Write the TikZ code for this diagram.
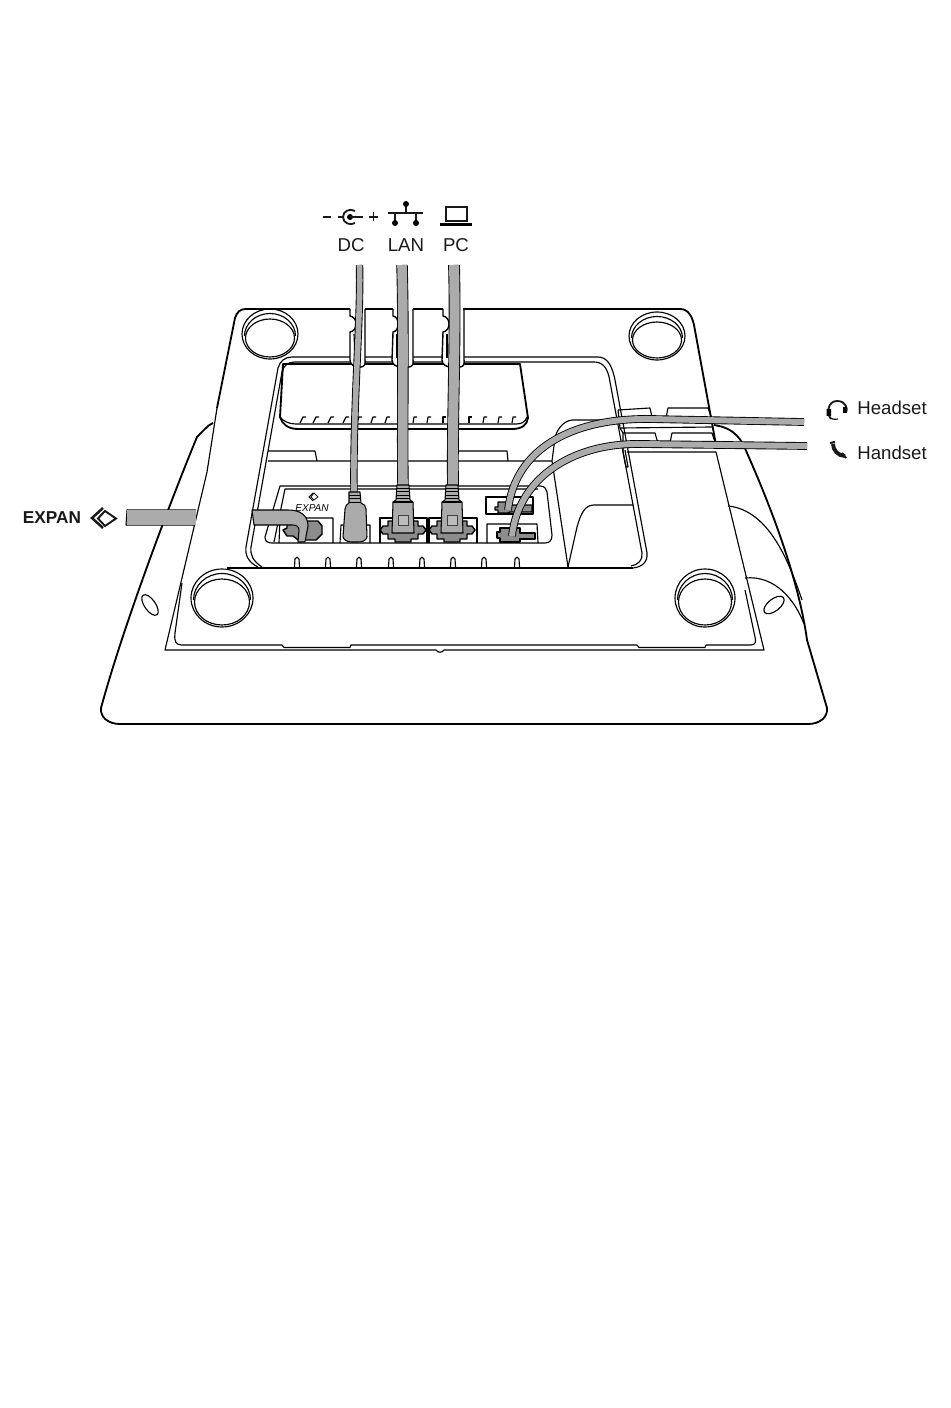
\documentclass[tikz,border=0pt]{standalone}
\usepackage{fontspec}
\setmainfont{Liberation Sans}
\usepackage{xcolor}
\usepackage{tikz}
\pgfdeclarelayer{cablelayer}
\pgfdeclarelayer{pluglayer}
\pgfsetlayers{main,cablelayer,pluglayer}
\definecolor{cablegray}{HTML}{ABABAB}
\definecolor{plugdark}{HTML}{8C8C8C}
\tikzstyle{thin line}=[draw=black, line width=.65pt, line join=round]
\tikzstyle{thick line}=[draw=black, line width=1.05pt, line join=round]
\tikzstyle{cable}=[draw=black, line width=.5pt, double=cablegray, double distance=#1]
\tikzstyle{plug}=[draw=black, line width=.6pt, fill=cablegray, line join=round]
\tikzstyle{jack}=[draw=black, line width=.8pt, fill=plugdark, line join=round]
\tikzstyle{portlabel}=[inner sep=0pt, font=\fontsize{10.6pt}{12pt}\selectfont, text=black!90]
\tikzstyle{icon}=[draw=black!90, line width=1.05pt]

\begin{document}
\begin{tikzpicture}[x=.02cm, y=-.02cm]
    \useasboundingbox (0,0) rectangle (950,1408);
    \fill[white] (0,0) rectangle (950,1408);

    % labels
    \node [style=portlabel] (DC) at (351,245) {DC};
    \node [style=portlabel] (LAN) at (406,245) {LAN};
    \node [style=portlabel] (PC) at (456,245) {PC};
    \node [style=portlabel, anchor=west] (Headset) at (857,408) {Headset};
    \node [style=portlabel, anchor=west] (Handset) at (857,453) {Handset};
    \node [style=portlabel, font=\fontsize{9.8pt}{12pt}\selectfont\bfseries] (EXPAN) at (52,518) {EXPAN};
    \node [inner sep=0pt, font=\fontsize{5.7pt}{7pt}\selectfont\itshape] (EXPANsmall) at (312,508) {EXPAN};

    % icons
    \draw [style=icon] (323,217) -- (331,217) (338,217) -- (343,217);
    \draw [style=icon] (355,211) .. controls (350,208) and (343,211) .. (343,217) .. controls (343,223) and (350,226) .. (355,223);
    \fill (350,217) circle (3);
    \draw [style=icon] (350,217) -- (363,217) (369,217) -- (378,217) (373.5,212.5) -- (373.5,221.5);
    \draw [style=icon] (406,204) -- (406,213) (388,213) -- (423,213) (395,213) -- (395,223) (416,213) -- (416,223);
    \fill (406,204) circle (3) (395,223) circle (3) (416,223) circle (3);
    \draw [style=icon, line width=.8pt] (446,207) rectangle (467,221);
    \fill (440,223) rectangle (472,226);
    \draw [style=icon] (831,419) .. controls (826,413) and (828,401) .. (837,401) .. controls (846,401) and (848,409) .. (846,412);
    \draw [style=icon, line width=.7pt] (829,416) .. controls (830,419) and (834,420) .. (838,419);
    \fill (826.5,409) rectangle (831,416) (843,407) rectangle (847,413);
    \draw [style=icon, line width=2.2pt] (833,444) .. controls (833,450) and (838,456) .. (845,456);
    \draw [style=icon, line width=1.2pt] (830,443) -- (835,442) (842,453) -- (846,458);
    \draw [style=icon, line width=1.4pt] (103,508) -- (92,518) -- (103,528);
    \draw [style=icon, line width=1.1pt] (105,511) -- (116,518.5) -- (105,526) -- (98,518.5) -- cycle;
    \draw [style=icon, line width=.5pt] (313,493) -- (309,497) -- (313,501) (314,493) -- (318,497) -- (314,500) -- (311,497) -- cycle;

    % phone body behind the plate
    \draw [style=thick line] (213,423) .. controls (208,425) and (203,431) .. (197,437)
        .. controls (175,490) and (125,620) .. (101,708)
        .. controls (100,717) and (108,724) .. (120,724) -- (808,724)
        .. controls (820,724) and (828,717) .. (827,708) -- (807,640)
        .. controls (803,610) and (790,550) .. (747,453) .. controls (742,440) and (735,428) .. (714,425);
    \draw [style=thin line] (728,506) .. controls (770,510) and (790,565) .. (802,600);
    \draw [style=thin line] (745,578) .. controls (775,575) and (795,600) .. (804,624);
    \draw [style=thin line, rotate around={-55:(150,605)}] (150,605) ellipse [x radius=12, y radius=5.5];
    \draw [style=thin line, rotate around={38:(774,605)}] (774,605) ellipse [x radius=12, y radius=6];

    % plate
    \draw [style=thick line] (217,408) -- (235,318) .. controls (237,312) and (240,309) .. (246,309) -- (350,309)
        (365,309) -- (393,309) (413,309) -- (443,309) (463,309) -- (680,309)
        .. controls (688,309) and (692,316) .. (694,325) -- (716,445);
    \draw [style=thin line] (217,408) -- (207,472) -- (165,650) -- (436,650) .. controls (438,653) and (442,653) .. (444,650) -- (764,650) -- (716,452) -- (627,452);
    \draw [style=thin line] (182,583) -- (175,633) .. controls (174,642) and (176,645) .. (182,645) -- (282,645) -- (284,647.5) -- (350,647.5) -- (351,645)
        -- (637,645) -- (639,647.5) -- (705,647.5) -- (706,645) -- (751,645) .. controls (756,645) and (756,641) .. (755,637) -- (745,590);
    % feet
    \foreach \x/\y/\r/\s in {270/334/28/25, 657/336/28/24, 222/598/31/29, 705/598/30/29} {
        \draw [style=thin line] (\x,\y) ellipse [x radius=\r, y radius=\s];
        \draw [style=thin line] (\x-\r+2.5,\y+2) arc [start angle=180, end angle=360, x radius=\r-2.5, y radius=\s-2.5];
        \draw [style=thin line] (\x,\y+4) ellipse [x radius=\r-3.5, y radius=\s-6];
    }

    % tray
    \draw [style=thin line] (258,567) .. controls (248,562) and (245,555) .. (246,547) -- (278,368) .. controls (280,361) and (285,357) .. (292,357) -- (598,357)
        .. controls (607,357) and (612,365) .. (615,380) -- (647,553) .. controls (648,562) and (642,567) .. (633,568);
    \draw [style=thin line] (262,567) .. controls (253,561) and (250,555) .. (251,547) -- (282,372) .. controls (284,365) and (288,362) .. (295,362) -- (594,362)
        .. controls (603,362) and (608,368) .. (610,382) -- (642,553) .. controls (643,560) and (638,565) .. (631,566);
    \draw [style=thick line] (227,568) -- (633,568);
    \draw [style=thick line] (283,364) -- (520,364) -- (528,418) .. controls (527,425) and (522,429) .. (512,429) -- (298,429) .. controls (288,429) and (282,424) .. (280,417) -- cycle;
    \draw [style=thin line] (280,417) .. controls (284,422) and (290,424) .. (296,424) -- (516,424) .. controls (522,424) and (525,422) .. (527,417);
    \foreach \x/\s in {300/3,313/3,328/3,343/3,357/2,371/2,385/2,413/1,427/1,443/0,469/0,483/1,498/1,512/1} {
        \draw [style=thin line] (\x,423) -- ++(\s,-6) -- ++(3,0);
    }
    \draw [style=thin line] (268,451) -- (315,451) -- (317,461) -- (552,461) (268,461) -- (317,461);
    \draw [style=thin line] (457,451) -- (507,451) -- (508,461);
    \draw [style=thin line] (603,420) -- (572,420) .. controls (562,421) and (556,432) .. (555,438) -- (552,461) -- (568,567);
    \draw [style=thin line] (568,567) -- (577,527) .. controls (581,513) and (585,505) .. (594,505) -- (633,505);

    % slots in the top edge
    \foreach \a/\b/\c/\d/\e in {350/358/350/355/365, 393/400/392/397/413, 443/451/442/447/464} {
        \fill [white] (\a,310) -- (\a,333) -- (\c,362) -- (\d,367) -- (\e,367) -- (\e,310) -- cycle;
        \draw [style=thick line, line width=.8pt] (\a,309) -- (\a,316) .. controls (\b,317) and (\b,331) .. (\a,332)
            -- (\c,360) .. controls (\c,365) and (\d,367) .. (\d+4,367) -- (\e-4,367) .. controls (\e-1,367) and (\e+1,364) .. (\e,360) -- (\e,309);
        \draw [style=thin line] (\a+4,334) -- (\c+5,358);
    }

    % right cable clips
    \draw [style=thin line] (618,410) -- (650,408) -- (652,417) .. controls (656,420) and (662,420) .. (666,418) -- (668,408) -- (708,408) -- (712,419);
    \draw [style=thin line] (618,410) -- (620,428) -- (623,433) -- (655,433) -- (657,440) .. controls (660,446) and (666,446) .. (670,443) -- (672,433) -- (712,433) -- (715,442);
    \draw [style=thin line] (620,428) -- (712,427);
    \draw [style=thin line] (623,433) -- (623,452) -- (626,467) -- (628,467) -- (625,450);

    % ports
    \draw [style=thin line] (280,486) -- (540,486) .. controls (545,486) and (546,489) .. (547,492) -- (552,535) .. controls (552,540) and (550,543) .. (545,543) -- (272,543)
        .. controls (267,543) and (265,541) .. (265,537) -- cycle;
    \draw [style=thin line] (274,542) -- (285,489) -- (538,489);
    \draw [style=thin line] (279,543) -- (280,518) -- (333,518) -- (333,543);
    \draw [style=thin line] (340,543) -- (341,525) -- (370,525) -- (370,543);
    \draw [style=thin line] (380,543) -- (380,518) -- (427,518) -- (427,543);
    \draw [style=thin line] (429,543) -- (429,518) -- (477,518) -- (477,543);
    \draw [style=thin line] (486,497) -- (533,497) -- (533,514) -- (486,514) -- cycle;
    \draw [style=thin line] (487,543) -- (487,524) -- (537,524) -- (538,543);
    \foreach \x in {297,328,359,391,422,453,484,517} {
        \draw [style=thin line] (\x-2.5,567) -- (\x-2,559) .. controls (\x-1.5,556.5) and (\x+1.5,556.5) .. (\x+2,559) -- (\x+2.5,567);
    }
    % headset and handset jacks
    \draw [style=jack] (495,507) -- (498,507) -- (498,502) -- (508,502) -- (510,505) -- (532,505) -- (532,512) -- (510,512) -- (508,513) -- (498,513) -- (498,510) -- (495,510) -- cycle;
    \draw [style=jack] (497,532) -- (500,532) -- (500,528) -- (520,528) -- (520,533) -- (535,533) -- (535,539) -- (520,539) -- (520,542) -- (500,542) -- (500,538) -- (497,538) -- cycle;

    \begin{pgfonlayer}{cablelayer}
        \coordinate (dctop) at (359.5,265);
        \coordinate (dcend) at (354,492);
        \coordinate (lantop) at (402,265);
        \coordinate (lanend) at (403,486);
        \coordinate (pctop) at (454,265);
        \coordinate (pcend) at (453,486);
        \coordinate (headsetend) at (804,422);
        \coordinate (headsetplug) at (508,510);
        \coordinate (handsetend) at (807,446);
        \coordinate (handsetplug) at (512,536);
        \draw [style={cable=3.2pt}] (dctop) .. controls (361,320) and (353,400) .. (dcend);
        \draw [style={cable=5.5pt}] (lantop) .. controls (404,340) and (402,420) .. (lanend);
        \draw [style={cable=5.7pt}] (pctop) .. controls (456,340) and (452,420) .. (pcend);
        \draw [style={cable=3.4pt}] (headsetend) -- (650,419) .. controls (570,418) and (515,450) .. (headsetplug);
        \draw [style={cable=3.4pt}] (handsetend) -- (640,444) .. controls (570,443) and (518,480) .. (handsetplug);

        % expansion cable, hidden under the plate
        \coordinate (expanend) at (126,518);
        \draw [style=plug] (196,510) -- (127,510) -- (126,525) -- (195,525);
        \fill [cablegray] (127,510.4) rectangle (195.5,524.6);
    \end{pgfonlayer}

    \begin{pgfonlayer}{pluglayer}
        % network plugs
        \foreach \x in {403,452} {
            \draw [style=jack] (\x-23,530) -- ++(3,-4) -- ++(5,0) -- ++(0,-5) -- ++(30,0) -- ++(0,5) -- ++(5,0) -- ++(3,4) -- ++(-3,4) -- ++(-5,0) -- ++(0,5) -- ++(-7,0) -- ++(0,3) -- ++(-16,0) -- ++(0,-3) -- ++(-7,0) -- ++(0,-5) -- ++(-5,0) -- cycle;
            \draw [style=plug] (\x-6,485) -- (\x+6,485) -- (\x+7,500) -- (\x+10,502) -- (\x+11,533) -- (\x-11,533) -- (\x-10,502) -- (\x-7,500) -- cycle;
            \draw [style=plug, fill=none] (\x-10,502) -- (\x+10,502);
            \draw [draw=black, line width=.45pt] (\x-7,488) -- (\x+7,488) (\x-7,491.5) -- (\x+7,491.5) (\x-7,495) -- (\x+7,495) (\x-7,498.5) -- (\x+7,498.5);
            \draw [draw=black!75, line width=.45pt, fill=cablegray!80] (\x-5,515) rectangle (\x+5,525);
        }
        % power plug
        \draw [style=plug] (349,492) -- (360,492) -- (361,503) .. controls (364,504) and (366,506) .. (366,509) -- (367,537) .. controls (366,541) and (362,542) .. (358,542) -- (352,542)
            .. controls (347,542) and (344,540) .. (343,537) -- (345,509) .. controls (345,506) and (347,504) .. (349,503) -- cycle;
        \draw [draw=black, line width=.45pt] (349,495) -- (360,495) (349,498.5) -- (360,498.5) (349,502) -- (361,502);
        % expansion plug
        \draw [style=jack] (283,530) -- (287,528) -- (287,523) -- (295,523) -- (297,521) -- (318,521) -- (322,526) -- (322,534) -- (316,540) -- (298,540) -- (293,536) -- (287,536) -- cycle;
        \coordinate (expanbend) at (305,521);
        \draw [style=plug] (254,525) -- (252,510) -- (288,510) .. controls (300,510) and (308,515) .. (308,526) -- (305,542) -- (298,542) -- (299,530) .. controls (299,526) and (296,525) .. (292,525) -- cycle;
    \end{pgfonlayer}
\end{tikzpicture}
\end{document}
